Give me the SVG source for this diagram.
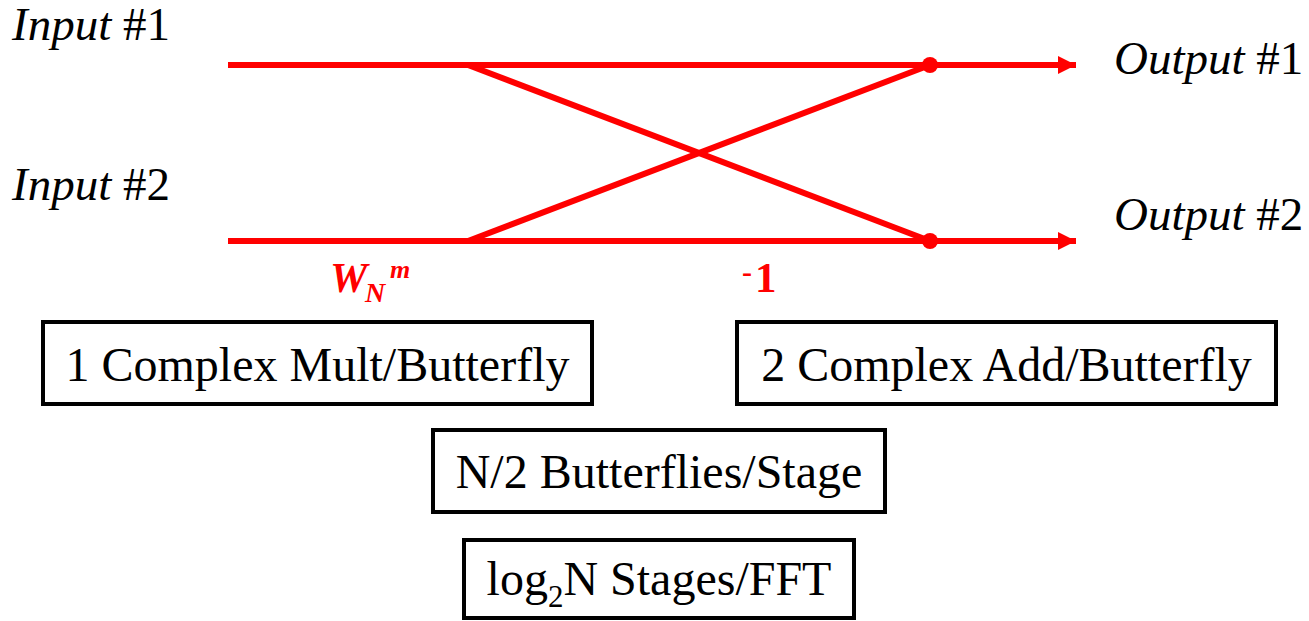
<svg xmlns="http://www.w3.org/2000/svg" width="1309" height="621" viewBox="0 0 1309 621">
<defs>
<marker id="arr" markerUnits="userSpaceOnUse" markerWidth="20" markerHeight="20" refX="18" refY="9" orient="auto">
<path d="M0,0 L18,9 L0,18 Z" fill="#ff0000"/>
</marker>
</defs>
<rect width="1309" height="621" fill="#fff"/>
<g id="connectors" stroke="#ff0000" stroke-width="6" fill="none">
<line x1="228" y1="65" x2="1076" y2="65" marker-end="url(#arr)"/>
<line x1="228" y1="241" x2="1076" y2="241" marker-end="url(#arr)"/>
<line x1="468" y1="65" x2="930" y2="241"/>
<line x1="468" y1="241" x2="930" y2="65"/>
<circle cx="930" cy="65" r="8" fill="#ff0000" stroke="none"/>
<circle cx="930" cy="241" r="8" fill="#ff0000" stroke="none"/>
</g>
<g id="input1"><text x="12" y="40" font-family="Liberation Serif" font-size="47" fill="#000"><tspan font-style="italic">Input</tspan> #1</text></g>
<g id="input2"><text x="12" y="200" font-family="Liberation Serif" font-size="47" fill="#000"><tspan font-style="italic">Input</tspan> #2</text></g>
<g id="output1"><text x="1114" y="74" font-family="Liberation Serif" font-size="47" fill="#000"><tspan font-style="italic">Output</tspan> #1</text></g>
<g id="output2"><text x="1114" y="230" font-family="Liberation Serif" font-size="47" fill="#000"><tspan font-style="italic">Output</tspan> #2</text></g>
<g id="twiddle" fill="#ff0000">
<text x="330" y="292" font-family="Liberation Serif" font-weight="bold" font-style="italic" font-size="42">W</text>
<text x="365" y="302" font-family="Liberation Serif" font-weight="bold" font-style="italic" font-size="28">N</text>
<text x="390" y="278" font-family="Liberation Serif" font-weight="bold" font-style="italic" font-size="26">m</text>
</g>
<g id="minus1" fill="#ff0000">
<text x="742" y="282" font-family="Liberation Serif" font-weight="bold" font-size="30">-</text>
<text x="755" y="292" font-family="Liberation Serif" font-weight="bold" font-size="43">1</text>
</g>
<g id="box1">
<rect x="43" y="322" width="549" height="82" fill="#fff" stroke="#000" stroke-width="4"/>
<text x="317.5" y="381" text-anchor="middle" font-family="Liberation Serif" font-size="48" fill="#000">1 Complex Mult/Butterfly</text>
</g>
<g id="box2">
<rect x="737" y="322" width="539" height="82" fill="#fff" stroke="#000" stroke-width="4"/>
<text x="1006.5" y="381" text-anchor="middle" font-family="Liberation Serif" font-size="48" fill="#000">2 Complex Add/Butterfly</text>
</g>
<g id="box3">
<rect x="433" y="430" width="452" height="82" fill="#fff" stroke="#000" stroke-width="4"/>
<text x="659" y="488" text-anchor="middle" font-family="Liberation Serif" font-size="48" fill="#000">N/2 Butterflies/Stage</text>
</g>
<g id="box4">
<rect x="464" y="540" width="390" height="78" fill="#fff" stroke="#000" stroke-width="4"/>
<text x="659" y="595" text-anchor="middle" font-family="Liberation Serif" font-size="48" fill="#000">log<tspan font-size="31" dy="12">2</tspan><tspan dy="-12">N Stages/FFT</tspan></text>
</g>
</svg>
